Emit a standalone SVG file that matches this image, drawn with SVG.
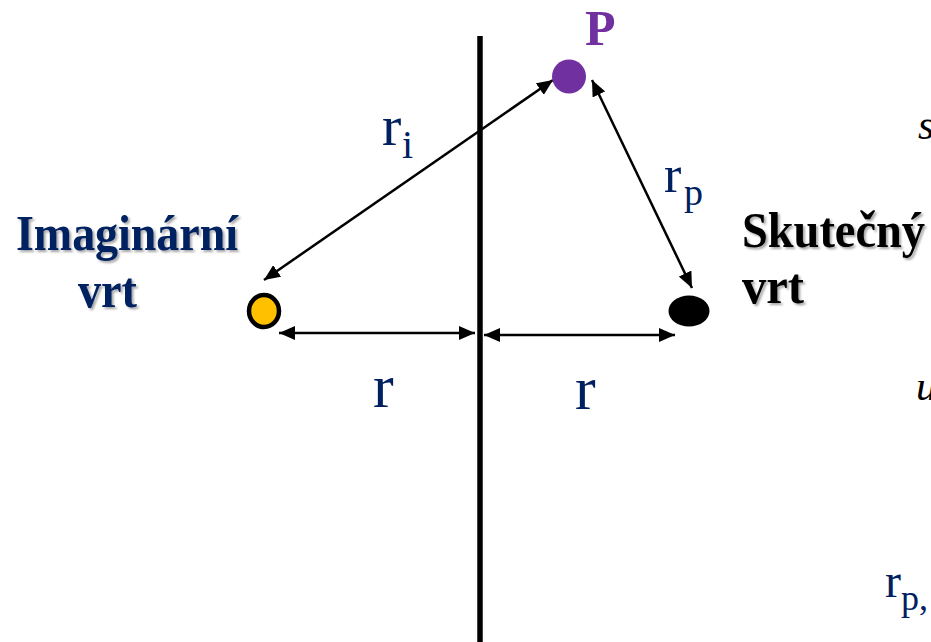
<svg xmlns="http://www.w3.org/2000/svg" width="931" height="642" viewBox="0 0 931 642">
<style>
.lbl{font-family:"Liberation Serif","Times New Roman",serif;fill:#002060}
.bold{font-weight:bold}
.sh{filter:url(#shadow)}
.conn{stroke:#000;stroke-width:2.5;fill:none;marker-start:url(#ah);marker-end:url(#ah)}
.edge{font-family:"Liberation Serif","Times New Roman",serif;font-style:italic;fill:#000}
</style>
<defs>
<filter id="shadow" x="-10%" y="-10%" width="130%" height="140%">
<feDropShadow dx="2" dy="2" stdDeviation="1" flood-color="#000" flood-opacity="0.35"/>
</filter>
<marker id="ah" viewBox="0 0 16 14" refX="16" refY="7" markerWidth="16" markerHeight="14" markerUnits="userSpaceOnUse" orient="auto-start-reverse">
<path d="M0,0 L16,7 L0,14 z" fill="#000"/>
</marker>
</defs>
<rect width="931" height="642" fill="#fff"/>
<g id="wall">
<line x1="480" y1="36" x2="480" y2="642" stroke="#000" stroke-width="5.5"/>
</g>
<g id="connectors">
<line class="conn" x1="264" y1="280" x2="553" y2="80"/>
<line class="conn" x1="592" y1="80" x2="692" y2="288"/>
<line class="conn" x1="279" y1="333" x2="475" y2="333"/>
<line class="conn" x1="484" y1="335" x2="675" y2="335"/>
</g>
<g id="point-P">
<circle cx="569" cy="76.5" r="17" fill="#7030A0"/>
<text x="585" y="45" class="lbl bold" style="fill:#7030A0" font-size="50">P</text>
</g>
<g id="imaginary-well">
<ellipse cx="264" cy="311" rx="15" ry="16" fill="#FFC000" stroke="#000" stroke-width="4.5"/>
<text x="16" y="250" class="lbl bold sh" font-size="50" textLength="222" lengthAdjust="spacingAndGlyphs">Imaginární</text>
<text x="78" y="307" class="lbl bold sh" font-size="50" textLength="59" lengthAdjust="spacingAndGlyphs">vrt</text>
</g>
<g id="real-well">
<ellipse cx="689" cy="311" rx="20.5" ry="15.5" fill="#000"/>
<text x="742" y="247" class="lbl bold sh" style="fill:#000" font-size="50" textLength="183" lengthAdjust="spacingAndGlyphs">Skutečný</text>
<text x="742" y="303" class="lbl bold sh" style="fill:#000" font-size="50" textLength="62" lengthAdjust="spacingAndGlyphs">vrt</text>
</g>
<g id="labels">
<text x="373" y="407" class="lbl" font-size="62">r</text>
<text x="575" y="409" class="lbl" font-size="62">r</text>
<text x="382" y="145" class="lbl" font-size="58">r</text>
<text x="402" y="158" class="lbl" font-size="40">i</text>
<text x="664" y="192" class="lbl" font-size="52">r</text>
<text x="684" y="205" class="lbl" font-size="38">p</text>
<text x="885" y="597" class="lbl" font-size="48">r</text>
<text x="901" y="610" class="lbl" font-size="36">p,</text>
</g>
<g id="cut-off-text">
<text x="918" y="139" class="edge" font-size="42">s</text>
<text x="916" y="400" class="edge" font-size="42">u</text>
</g>
</svg>
